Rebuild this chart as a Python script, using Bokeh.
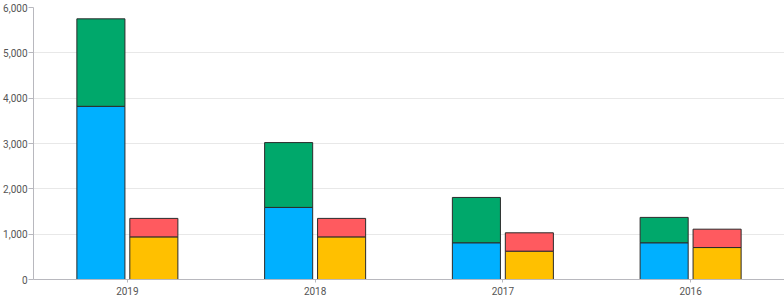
from bokeh.plotting import figure
from bokeh.models import ColumnDataSource, FactorRange, NumeralTickFormatter
from bokeh.transform import dodge
from bokeh.embed import file_html
from bokeh.resources import INLINE

years = ["2019", "2018", "2017", "2016"]
blue = [3820, 1590, 810, 810]
green = [1930, 1430, 1000, 560]
yellow = [940, 940, 625, 705]
red = [408, 408, 405, 405]

src = ColumnDataSource(dict(year=years, blue=blue, green=green, yellow=yellow, red=red))

p = figure(x_range=FactorRange(factors=years), y_range=(0, 6000), width=784, height=300,
           output_backend="svg", toolbar_location=None,
           min_border_left=32, min_border_right=0, min_border_top=7, min_border_bottom=21)

p.vbar_stack(["blue", "green"], x=dodge("year", -0.141, range=p.x_range), width=0.256, source=src,
             color=["#00B0FF", "#00A86B"], line_color="#2b2b2b", line_width=1)
p.vbar_stack(["yellow", "red"], x=dodge("year", 0.141, range=p.x_range), width=0.256, source=src,
             color=["#FFC000", "#FF5A5F"], line_color="#2b2b2b", line_width=1)

p.outline_line_color = None
p.xgrid.grid_line_color = None
p.ygrid.grid_line_color = "#e8e8e8"
p.yaxis.formatter = NumeralTickFormatter(format="0,0")
p.yaxis.ticker = [0, 1000, 2000, 3000, 4000, 5000, 6000]
for ax in (p.xaxis, p.yaxis):
    ax.axis_line_color = "#b8b8be"
    ax.major_tick_line_color = "#b8b8be"
    ax.minor_tick_line_color = None
    ax.major_label_text_font = "Roboto"
    ax.major_label_text_font_size = "10px"
    ax.major_label_text_color = "#555555"
    ax.major_tick_in = 0
p.yaxis.major_tick_out = 5
p.xaxis.major_tick_out = 3
p.yaxis.major_label_standoff = 1
p.xaxis.major_label_standoff = 4

open("out.html", "w").write(file_html(p, INLINE))
